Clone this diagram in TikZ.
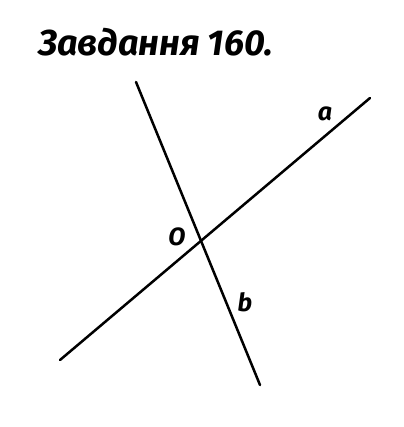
\documentclass[tikz,border=0pt]{standalone}
\usepackage{fontspec}
\setmainfont{Fira Sans}
\begin{document}
\begin{tikzpicture}[x=1pt,y=-1pt,
  ln/.style={line width=2.5pt,line cap=round},
  lbl/.style={font=\bfseries\itshape\fontsize{25}{25}\selectfont,inner sep=0pt}]
\useasboundingbox[fill=white] (0,0) rectangle (403,427);
\node[anchor=base west,inner sep=0pt,font=\bfseries\itshape\fontsize{36}{36}\selectfont] (title) at (38,56) {Завдання 160.};
\coordinate (b1) at (136,82);
\coordinate (b2) at (260,385);
\coordinate (a1) at (370,98);
\coordinate (a2) at (60,360);
\draw[ln] (b1) -- (b2);
\draw[ln] (a1) -- (a2);
\node[lbl] (O) at (177,237) {O};
\node[lbl] (a) at (325,114) {a};
\node[lbl] (b) at (245,302) {b};
\end{tikzpicture}
\end{document}
